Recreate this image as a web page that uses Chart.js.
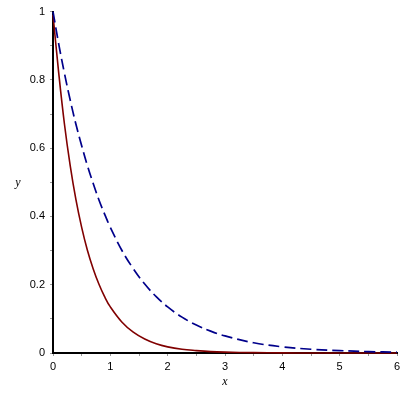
<!DOCTYPE html>
<html>
<head>
<meta charset="utf-8">
<script src="https://cdn.jsdelivr.net/npm/chart.js@4"></script>
<style>
  html, body { margin: 0; padding: 0; background: #fff; }
  #wrap { width: 420px; height: 396px; position: relative; }
</style>
</head>
<body>
<div id="wrap"><canvas id="Grafico" width="420" height="396"></canvas></div>
<script>
// valores
const xVals = [0, 0.1, 0.2, 0.3, 0.4, 0.5, 0.6, 0.7, 0.8, 0.9, 1.0, 1.2, 1.4, 1.6, 1.8, 2.0, 2.25, 2.5, 2.75, 3.0, 3.5, 4.0, 4.5, 5.0, 5.5, 6.0];
const redVals = [0.99, 0.82, 0.67, 0.549, 0.449, 0.368, 0.301, 0.247, 0.202, 0.165, 0.135, 0.091, 0.061, 0.041, 0.027, 0.018, 0.011, 0.007, 0.004, 0.0025, 0.001, 0.0005, 0, 0, 0, 0];
const blueVals = [1.0, 0.905, 0.819, 0.741, 0.670, 0.607, 0.549, 0.497, 0.449, 0.407, 0.368, 0.301, 0.247, 0.202, 0.165, 0.135, 0.105, 0.082, 0.064, 0.05, 0.03, 0.018, 0.011, 0.007, 0.004, 0.0025];
const xTickLabels = [0, 1, 2, 3, 4, 5, 6];
const yTickLabels = [0, 0.2, 0.4, 0.6, 0.8, 1];

const tickFont = { family: 'Liberation Sans', size: 11 };

// rótulo "y" na horizontal, à esquerda do eixo
const yLabel = {
    id: 'yLabel',
    afterDraw(chart) {
        const ctx = chart.ctx;
        ctx.save();
        ctx.font = 'italic 12px "Liberation Serif"';
        ctx.fillStyle = '#000';
        ctx.textAlign = 'center';
        ctx.textBaseline = 'middle';
        ctx.fillText('y', 18, 183);
        ctx.restore();
    }
};

const ctx = document.getElementById('Grafico').getContext('2d');
new Chart(ctx, {
    type: 'line',
    data: {
        datasets: [{
            label: 'red',
            data: xVals.map((x, i) => ({ x: x, y: redVals[i] })),
            borderColor: 'rgb(128, 0, 0)',
            borderWidth: 1.6,
            pointRadius: 0,
            tension: 0.4,
            order: 1
        }, {
            label: 'blue',
            data: xVals.map((x, i) => ({ x: x, y: blueVals[i] })),
            borderColor: 'rgb(0, 0, 139)',
            borderWidth: 1.7,
            borderDash: [11, 5],
            pointRadius: 0,
            tension: 0.4,
            order: 0
        }]
    },
    options: {
        responsive: false,
        animation: false,
        clip: false,
        layout: { padding: { top: 8, right: 23, left: 0, bottom: 0 } },
        plugins: { legend: { display: false }, tooltip: { enabled: false } },
        scales: {
            x: {
                type: 'linear',
                min: 0,
                max: 6,
                afterFit(scale) { scale.height = 43; },
                ticks: {
                    stepSize: 0.5,
                    autoSkip: false,
                    maxRotation: 0,
                    padding: 4,
                    color: '#000',
                    font: tickFont,
                    callback: v => xTickLabels.includes(v) ? String(v) : ''
                },
                grid: { drawOnChartArea: false, tickLength: 3, tickColor: '#999' },
                border: { color: '#000', width: 2 },
                title: {
                    display: true,
                    text: 'x',
                    color: '#000',
                    padding: { top: 1, bottom: 7 },
                    font: { family: 'Liberation Serif', style: 'italic', size: 12 }
                }
            },
            y: {
                min: 0,
                max: 1,
                afterFit(scale) { scale.width = 53; },
                ticks: {
                    stepSize: 0.1,
                    autoSkip: false,
                    padding: 5,
                    color: '#000',
                    font: tickFont,
                    callback: v => {
                        const r = Math.round(v * 10) / 10;
                        return yTickLabels.includes(r) ? String(r) : '';
                    }
                },
                grid: { drawOnChartArea: false, tickLength: 3, tickColor: '#999' },
                border: { color: '#000', width: 2 }
            }
        }
    },
    plugins: [yLabel]
});
</script>
</body>
</html>
